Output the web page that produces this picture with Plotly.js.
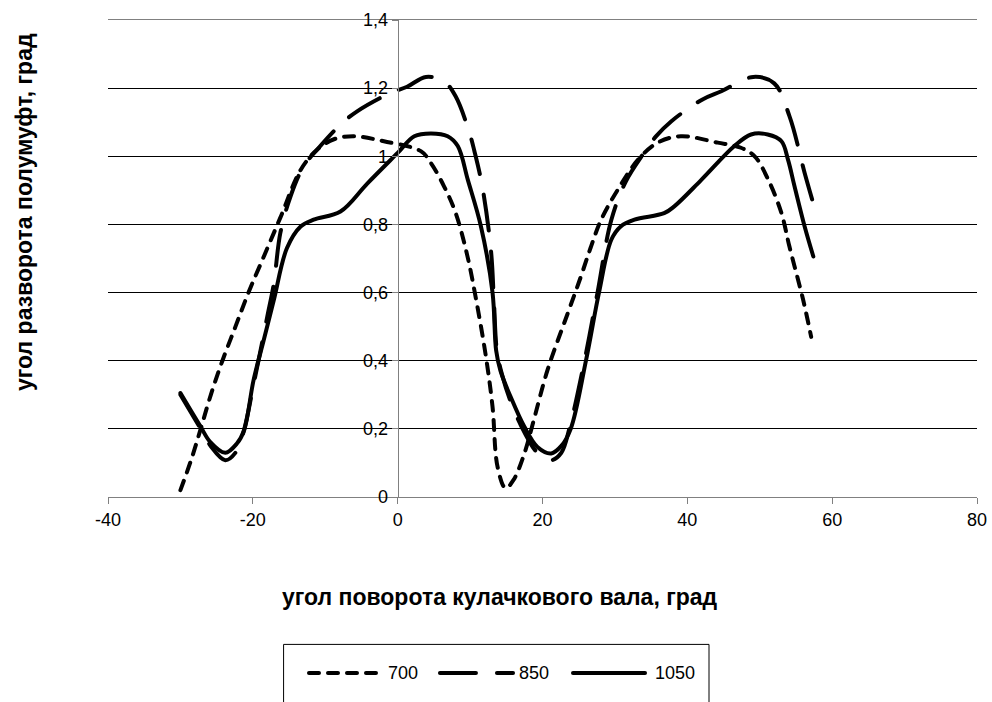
<!DOCTYPE html>
<html>
<head>
<meta charset="utf-8">
<script src="https://cdn.plot.ly/plotly-3.0.1.min.js"></script>
<style>
html,body{margin:0;padding:0;background:#fff;}
#chart{width:992px;height:702px;}
.scatterlayer path.js-line{stroke-linecap:round !important;stroke-linejoin:round !important;}
.shapelayer path{stroke-linecap:round;}
</style>
</head>
<body>
<div id="chart"></div>
<script>
// ---- data ----
const seriesNames = ["700", "850", "1050"];

const x700 = [-30, -28.5, -27.2, -25.8, -24.2, -22.4, -20.6, -18.5, -16.2, -13.4, -11.1, -8.8, -6.1, -1.9, 3.2, 4.6, 6.4, 8.0, 9.6, 11.0, 12.2, 13.1, 13.8, 14.9, 16.0, 17.5, 18.8, 20.7, 23.5, 25.3, 26.7, 28.1, 30.4, 33.2, 35.9, 39.1, 44.2, 47.4, 49.3, 51.2, 53.0, 54.1, 56.0, 57.1];
const y700 = [0.02, 0.11, 0.2, 0.3, 0.4, 0.5, 0.6, 0.705, 0.82, 0.96, 1.02, 1.05, 1.059, 1.044, 1.015, 0.98, 0.912, 0.834, 0.71, 0.56, 0.41, 0.265, 0.088, 0.026, 0.05, 0.128, 0.226, 0.373, 0.54, 0.647, 0.735, 0.814, 0.902, 0.99, 1.04, 1.059, 1.04, 1.025, 1.0, 0.93, 0.833, 0.735, 0.578, 0.47];

const x850 = [-30, -28.6, -27.2, -25.9, -23.8, -22.4, -21.3, -19.8, -18.0, -17.1, -16.2, -14.8, -13.0, -11.1, -7.9, -5.6, -1.0, 1.3, 3.9, 6.4, 8.0, 9.9, 10.6, 11.7, 12.9, 13.3, 13.7, 14.4, 15.6, 17.5, 19.3, 21.2, 22.6, 23.7, 25.8, 27.6, 29.5, 31.5, 34.0, 35.7, 37.8, 42.1, 44.7, 49.1, 52.0, 54.1, 56.2, 57.4];
const y850 = [0.3, 0.25, 0.2, 0.152, 0.108, 0.13, 0.19, 0.34, 0.53, 0.627, 0.775, 0.882, 0.97, 1.02, 1.093, 1.132, 1.186, 1.204, 1.233, 1.22, 1.176, 1.07, 1.015, 0.91, 0.72, 0.57, 0.43, 0.36, 0.28, 0.19, 0.13, 0.108, 0.13, 0.2, 0.4, 0.6, 0.813, 0.926, 1.01, 1.059, 1.103, 1.167, 1.191, 1.233, 1.214, 1.118, 0.951, 0.861];

const x1050 = [-30, -28.6, -27.2, -25.9, -23.8, -22.2, -21.2, -19.9, -18.5, -17.1, -15.3, -13.4, -11.6, -7.9, -4.2, 0, 2.3, 4.6, 6.9, 8.3, 9.7, 11.5, 13.1, 13.6, 14.2, 15.6, 17.5, 19.3, 21.2, 22.6, 23.9, 26.0, 27.8, 29.5, 30.8, 32.7, 36.8, 38.2, 41.9, 46.5, 48.8, 51.1, 53.0, 53.9, 54.8, 56.2, 57.4];
const y1050 = [0.305, 0.255, 0.206, 0.162, 0.13, 0.157, 0.196, 0.343, 0.46, 0.578, 0.73, 0.794, 0.814, 0.838, 0.92, 1.01, 1.059, 1.067, 1.059, 1.03, 0.93, 0.794, 0.6, 0.43, 0.37, 0.294, 0.206, 0.147, 0.128, 0.15, 0.2, 0.4, 0.6, 0.755, 0.794, 0.814, 0.833, 0.853, 0.93, 1.03, 1.064, 1.064, 1.044, 0.99, 0.912, 0.794, 0.706];

const xTickVals = [-40, -20, 0, 20, 40, 60, 80];
const xTickText = ["-40", "-20", "0", "20", "40", "60", "80"];
const yTickVals = [0, 0.2, 0.4, 0.6, 0.8, 1.0, 1.2, 1.4];
const yTickText = ["0", "0,2", "0,4", "0,6", "0,8", "1", "1,2", "1,4"];

const xTitle = "угол поворота кулачкового вала, град";
const yTitle = "угол разворота полумуфт, град";

// ---- styles ----
const FONT = "Arial, 'Liberation Sans', sans-serif";
const dashes = ["10px,9px", "36px,21px", "solid"];
const W = 4;

const xs = [x700, x850, x1050];
const ys = [y700, y850, y1050];

const traces = seriesNames.map((n, i) => ({
  x: xs[i], y: ys[i], name: n, type: "scatter", mode: "lines",
  line: {color: "#000", width: W, dash: dashes[i], shape: "spline", smoothing: 1},
  showlegend: false, hoverinfo: "skip"
}));

// custom legend (paper coords)
const legLines = [[0.2313, 0.3096], [0.382, 0.4661], [0.5351, 0.618]];
const legText = [0.3199, 0.4707, 0.6267];
const legY = -0.369;

const shapes = [{
  type: "rect", xref: "paper", yref: "paper",
  x0: 0.2025, x1: 0.6916, y0: -0.309, y1: -0.5,
  line: {color: "#000", width: 1}, fillcolor: "rgba(0,0,0,0)"
}];
const annotations = [];
seriesNames.forEach((n, i) => {
  shapes.push({type: "line", xref: "paper", yref: "paper",
    x0: legLines[i][0], x1: legLines[i][1], y0: legY, y1: legY,
    line: {color: "#000", width: W, dash: dashes[i]}});
  annotations.push({xref: "paper", yref: "paper", x: legText[i], y: legY,
    xanchor: "left", yanchor: "middle", text: n, showarrow: false,
    font: {family: FONT, size: 18, color: "#000"}});
});
annotations.push({xref: "paper", yref: "paper", x: 0.451, y: -0.2096,
  xanchor: "center", yanchor: "middle", text: "<b>" + xTitle + "</b>", showarrow: false,
  font: {family: FONT, size: 23, color: "#000"}});
annotations.push({xref: "paper", yref: "paper", x: -0.0967, y: 0.5975,
  xanchor: "center", yanchor: "middle", text: "<b>" + yTitle + "</b>", showarrow: false,
  textangle: -90, font: {family: FONT, size: 23, color: "#000"}});

const layout = {
  width: 992, height: 702,
  margin: {l: 108, r: 15, t: 20, b: 205},
  paper_bgcolor: "#fff", plot_bgcolor: "#fff",
  showlegend: false,
  font: {family: FONT, size: 18, color: "#000"},
  xaxis: {
    range: [-40, 80], tickvals: xTickVals, ticktext: xTickText, showgrid: false, zeroline: false,
    showline: true, mirror: true, linecolor: "#808080", linewidth: 1,
    ticks: "outside", ticklen: 6, tickcolor: "#808080",
    tickfont: {family: FONT, size: 18, color: "#000"}
  },
  yaxis: {
    range: [0, 1.4], tickvals: yTickVals, ticktext: yTickText, showgrid: true, gridcolor: "#000", gridwidth: 1,
    zeroline: false, showline: true, linecolor: "#808080", linewidth: 1,
    anchor: "free", position: 1/3,
    ticks: "outside", ticklen: 6, tickcolor: "#808080",
    tickfont: {family: FONT, size: 18, color: "#000"}
  },
  shapes: shapes,
  annotations: annotations
};

Plotly.newPlot("chart", traces, layout, {staticPlot: true, displayModeBar: false});
</script>
</body>
</html>
